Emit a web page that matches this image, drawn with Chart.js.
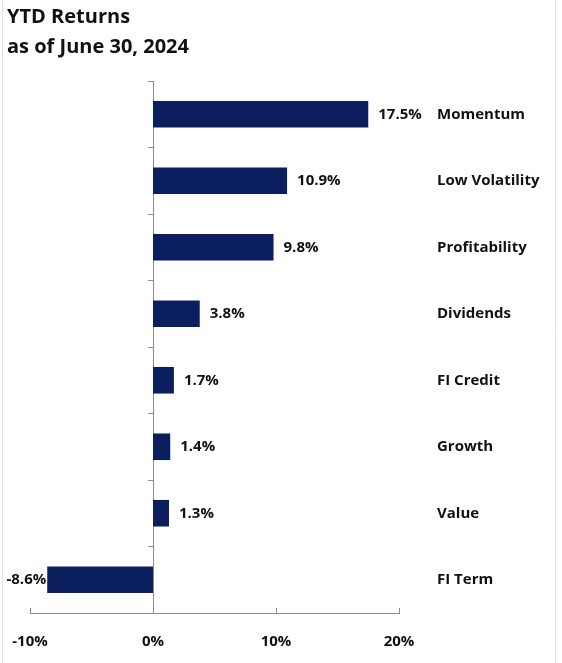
<!DOCTYPE html>
<html>
<head>
<meta charset="utf-8">
<script src="https://cdn.jsdelivr.net/npm/chart.js@4.4.1/dist/chart.umd.min.js"></script>
<style>
  html, body { margin: 0; padding: 0; background: #fff; }
  #wrap { width: 562px; height: 663px; position: relative; }
</style>
</head>
<body>
<div id="wrap"><canvas id="chart"></canvas></div>
<script>
// Data
const titleLines = ["YTD Returns", "as of June 30, 2024"];
const factors = ["Momentum", "Low Volatility", "Profitability", "Dividends", "FI Credit", "Growth", "Value", "FI Term"];
const ytdReturns = [17.5, 10.9, 9.8, 3.8, 1.7, 1.4, 1.3, -8.6];
const xTicks = [-10, 0, 10, 20];

const navy = "#0b1f5e";
const axisGray = "#8c8c8c";
const labelFont = "bold 15px 'Open Sans', sans-serif";

// Title, frame, value labels, category names, bottom tick marks
const decorations = {
    id: "decorations",
    beforeDraw(chart) {
        const ctx = chart.ctx;
        ctx.save();
        ctx.fillStyle = "#fff";
        ctx.fillRect(0, 0, chart.width, chart.height);
        ctx.strokeStyle = "#e2e2e2";
        ctx.lineWidth = 1;
        ctx.beginPath();
        ctx.moveTo(2.5, 0); ctx.lineTo(2.5, chart.height);
        ctx.moveTo(555.5, 0); ctx.lineTo(555.5, chart.height);
        ctx.stroke();
        ctx.restore();
    },
    afterDraw(chart) {
        const ctx = chart.ctx;
        const x = chart.scales.x;
        const y = chart.scales.y;
        const area = chart.chartArea;
        ctx.save();

        // title
        ctx.fillStyle = "#111";
        ctx.font = "bold 20px 'Open Sans', sans-serif";
        ctx.textAlign = "left";
        ctx.textBaseline = "middle";
        titleLines.forEach((line, i) => ctx.fillText(line, 7, 17 + i * 30));

        // tick marks on the bottom axis, pointing up
        ctx.strokeStyle = axisGray;
        ctx.lineWidth = 1;
        ctx.beginPath();
        xTicks.forEach(v => {
            const px = Math.round(x.getPixelForValue(v)) + 0.5;
            ctx.moveTo(px, area.bottom);
            ctx.lineTo(px, area.bottom - 5);
        });
        ctx.stroke();

        // value labels beside each bar, factor names on the right
        ctx.font = labelFont;
        ctx.fillStyle = "#111";
        const meta = chart.getDatasetMeta(0);
        ytdReturns.forEach((v, i) => {
            const bar = meta.data[i];
            const text = v.toFixed(1) + "%";
            if (v >= 0) {
                ctx.textAlign = "left";
                ctx.fillText(text, bar.x + 10, bar.y);
            } else {
                ctx.textAlign = "right";
                ctx.fillText(text, bar.x - 1, bar.y);
            }
            ctx.textAlign = "left";
            ctx.fillText(factors[i], area.right + 38, y.getPixelForValue(i));
        });
        ctx.restore();
    }
};

new Chart(document.getElementById("chart"), {
    type: "bar",
    data: {
        labels: factors,
        datasets: [{
            data: ytdReturns,
            backgroundColor: navy,
            borderWidth: 0,
            barPercentage: 0.4,
            categoryPercentage: 1
        }]
    },
    options: {
        indexAxis: "y",
        responsive: true,
        maintainAspectRatio: false,
        animation: false,
        layout: { padding: { left: 30, right: 163, top: 81, bottom: 0 } },
        plugins: {
            legend: { display: false },
            tooltip: { enabled: false }
        },
        scales: {
            x: {
                min: -10,
                max: 20,
                afterBuildTicks: (axis) => { axis.ticks = xTicks.map(v => ({ value: v })); },
                afterFit: (axis) => {
                    axis.height = 50;
                    axis.paddingLeft = 0;
                    axis.paddingRight = 0;
                },
                grid: { display: false, drawTicks: false },
                border: { display: true, color: axisGray, width: 1 },
                ticks: {
                    padding: 20,
                    color: "#111",
                    font: { family: "'Open Sans', sans-serif", size: 15, weight: "bold" },
                    callback: (v) => v + "%"
                }
            },
            y: {
                position: { x: 0 },
                grid: { offset: true, drawOnChartArea: false, drawTicks: true, tickLength: 5, color: axisGray },
                border: { display: true, color: axisGray, width: 1 },
                ticks: { display: false }
            }
        }
    },
    plugins: [decorations]
});
</script>
</body>
</html>
